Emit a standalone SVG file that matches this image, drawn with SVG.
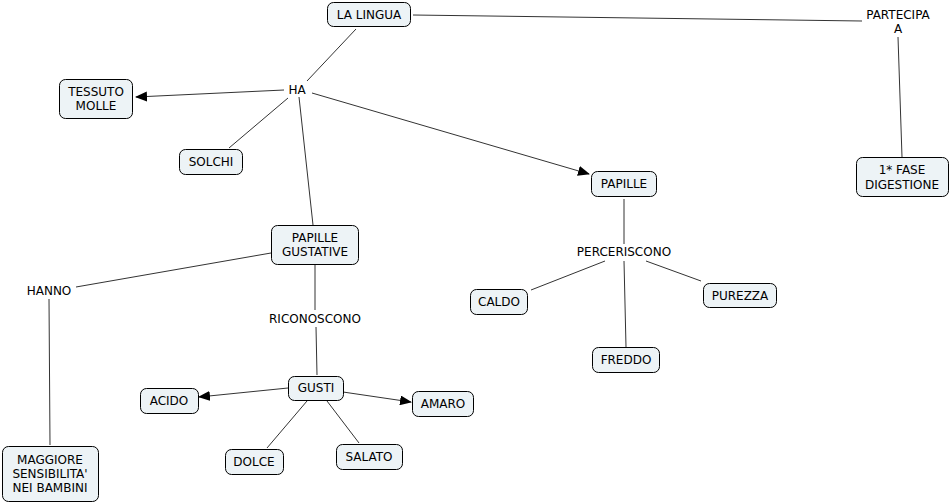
<svg xmlns="http://www.w3.org/2000/svg" width="952" height="503" viewBox="0 0 952 503">
<defs>
<marker id="arr" markerUnits="userSpaceOnUse" markerWidth="12" markerHeight="10" refX="11" refY="5" orient="auto">
<path d="M0,0 L12,5 L0,10 Z" fill="#000"/>
</marker>
<style>
.n rect{fill:#edf3f6;stroke:#000;stroke-width:1}
text{font-family:"DejaVu Sans",Verdana,sans-serif;font-size:12px;fill:#000;text-anchor:middle}
.c line{stroke:#333;stroke-width:1}
.c .a{marker-end:url(#arr)}
</style>
</defs>
<rect width="952" height="503" fill="#fff"/>
<g class="c" id="connectors">
<line x1="356" y1="29" x2="307" y2="81"/>
<line class="a" x1="284" y1="90" x2="136" y2="97"/>
<line x1="288" y1="98" x2="229" y2="148"/>
<line x1="299" y1="97" x2="313" y2="225"/>
<line class="a" x1="312" y1="93" x2="589" y2="174"/>
<line x1="413" y1="15" x2="862" y2="21"/>
<line x1="898" y1="37" x2="902" y2="157"/>
<line x1="624" y1="199" x2="624" y2="244"/>
<line x1="605" y1="261" x2="531" y2="290"/>
<line x1="624" y1="261" x2="626" y2="347"/>
<line x1="646" y1="261" x2="701" y2="281"/>
<line x1="271" y1="253" x2="76" y2="287"/>
<line x1="49" y1="299" x2="50" y2="445"/>
<line x1="315" y1="265" x2="315" y2="310"/>
<line x1="316" y1="327" x2="317" y2="375"/>
<line class="a" x1="288" y1="388" x2="199" y2="397"/>
<line class="a" x1="343" y1="392" x2="411" y2="402"/>
<line x1="307" y1="401" x2="267" y2="448"/>
<line x1="327" y1="401" x2="359" y2="443"/>
</g>
<g id="lingua" class="n"><rect x="327.5" y="2.5" width="83" height="24" rx="6"/><text x="369" y="19">LA LINGUA</text></g>
<g id="tessuto" class="n"><rect x="59.5" y="79.5" width="73" height="39" rx="6"/><text x="96" y="96">TESSUTO</text><text x="96" y="110">MOLLE</text></g>
<g id="solchi" class="n"><rect x="179.5" y="149.5" width="63" height="25" rx="6"/><text x="211" y="166">SOLCHI</text></g>
<g id="papgust" class="n"><rect x="271.5" y="225.5" width="87" height="39" rx="6"/><text x="315" y="242">PAPILLE</text><text x="315" y="256">GUSTATIVE</text></g>
<g id="maggiore" class="n"><rect x="2.5" y="446.5" width="96" height="55" rx="6"/><text x="50" y="464">MAGGIORE</text><text x="50" y="478">SENSIBILITA'</text><text x="50" y="492">NEI BAMBINI</text></g>
<g id="gusti" class="n"><rect x="288.5" y="376.5" width="55" height="24" rx="6"/><text x="316" y="392">GUSTI</text></g>
<g id="acido" class="n"><rect x="140.5" y="388.5" width="58" height="25" rx="6"/><text x="169" y="405">ACIDO</text></g>
<g id="amaro" class="n"><rect x="412.5" y="391.5" width="61" height="25" rx="6"/><text x="443" y="408">AMARO</text></g>
<g id="dolce" class="n"><rect x="225.5" y="449.5" width="58" height="25" rx="6"/><text x="254" y="466">DOLCE</text></g>
<g id="salato" class="n"><rect x="336.5" y="444.5" width="66" height="25" rx="6"/><text x="369" y="461">SALATO</text></g>
<g id="papille" class="n"><rect x="591.5" y="171.5" width="65" height="25" rx="6"/><text x="624" y="188">PAPILLE</text></g>
<g id="caldo" class="n"><rect x="470.5" y="289.5" width="57" height="25" rx="6"/><text x="499" y="306">CALDO</text></g>
<g id="freddo" class="n"><rect x="592.5" y="347.5" width="67" height="25" rx="6"/><text x="626" y="364">FREDDO</text></g>
<g id="purezza" class="n"><rect x="703.5" y="283.5" width="73" height="24" rx="6"/><text x="740" y="300">PUREZZA</text></g>
<g id="fase" class="n"><rect x="856.5" y="157.5" width="92" height="39" rx="6"/><text x="902" y="174">1* FASE</text><text x="902" y="189">DIGESTIONE</text></g>
<g id="l-ha"><text x="297" y="94">HA</text></g>
<g id="l-hanno"><text x="49" y="295">HANNO</text></g>
<g id="l-ric"><text x="315" y="323">RICONOSCONO</text></g>
<g id="l-perc"><text x="624" y="256">PERCERISCONO</text></g>
<g id="l-part"><text x="898" y="19">PARTECIPA</text><text x="898" y="33">A</text></g>
</svg>
